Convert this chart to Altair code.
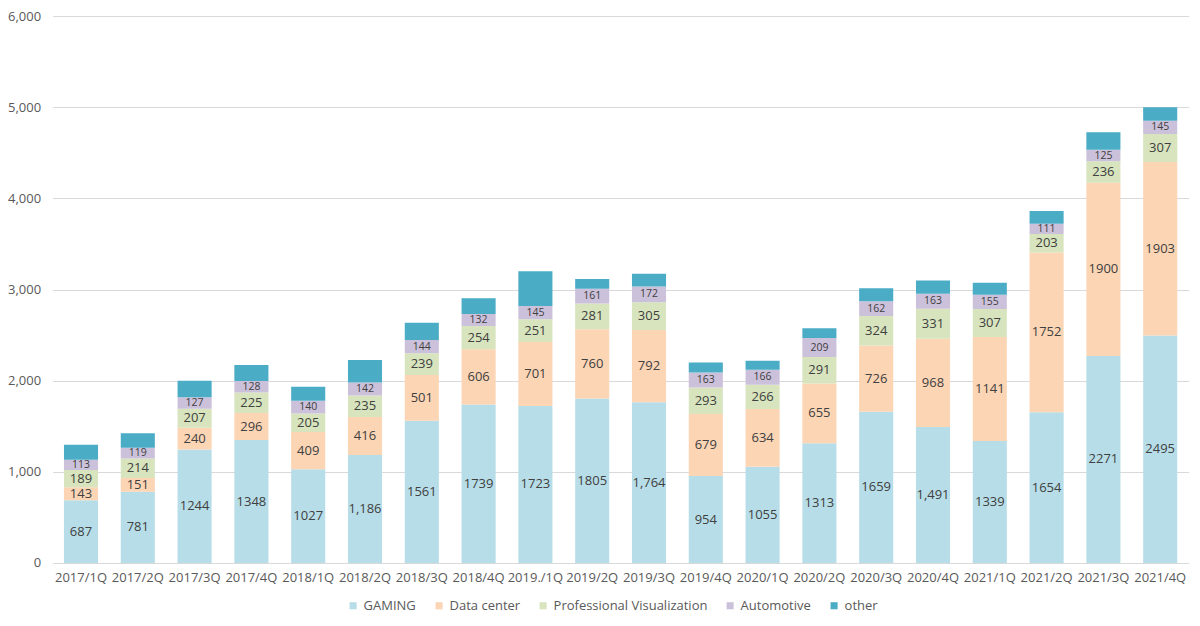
import altair as alt
import pandas as pd

quarters = ["2017/1Q", "2017/2Q", "2017/3Q", "2017/4Q", "2018/1Q", "2018/2Q", "2018/3Q", "2018/4Q",
            "2019./1Q", "2019/2Q", "2019/3Q", "2019/4Q", "2020/1Q", "2020/2Q", "2020/3Q", "2020/4Q",
            "2021/1Q", "2021/2Q", "2021/3Q", "2021/4Q"]
series = ["GAMING", "Data center", "Professional Visualization", "Automotive", "other"]

gaming = [687, 781, 1244, 1348, 1027, 1186, 1561, 1739, 1723, 1805, 1764, 954, 1055, 1313, 1659, 1491, 1339, 1654, 2271, 2495]
gaming_labels = ["687", "781", "1244", "1348", "1027", "1,186", "1561", "1739", "1723", "1805", "1,764", "954",
                 "1055", "1313", "1659", "1,491", "1339", "1654", "2271", "2495"]
datacenter = [143, 151, 240, 296, 409, 416, 501, 606, 701, 760, 792, 679, 634, 655, 726, 968, 1141, 1752, 1900, 1903]
provis = [189, 214, 207, 225, 205, 235, 239, 254, 251, 281, 305, 293, 266, 291, 324, 331, 307, 203, 236, 307]
automotive = [113, 119, 127, 128, 140, 142, 144, 132, 145, 161, 172, 163, 166, 209, 162, 163, 155, 111, 125, 145]
other = [166, 159, 182, 175, 153, 247, 189, 173, 379, 108, 140, 111, 98, 108, 142, 147, 133, 142, 193, 148]

colors = ["#B7DEE8", "#FCD5B5", "#D7E4BD", "#CCC1DA", "#4BACC6"]

rows = []
for i, q in enumerate(quarters):
    vals = [gaming[i], datacenter[i], provis[i], automotive[i], other[i]]
    labels = [gaming_labels[i], str(datacenter[i]), str(provis[i]), str(automotive[i]), ""]
    base = 0
    for j, s in enumerate(series):
        rows.append({"q": q, "series": s, "order": j, "y0": base, "y1": base + vals[j],
                     "mid": base + vals[j] / 2, "label": labels[j], "small": j == 3})
        base += vals[j]
df = pd.DataFrame(rows)

FONT = "Open Sans"

x_enc = alt.X("q:N", sort=quarters, title=None,
              scale=alt.Scale(paddingInner=0.4, paddingOuter=0.2),
              axis=alt.Axis(labelAngle=0, ticks=False, domain=False, labelPadding=9,
                            labelFontSize=13, labelColor="#595959", labelFont=FONT))
y_scale = alt.Scale(domain=[0, 6000], nice=False)

bars = alt.Chart(df).mark_bar().encode(
    x=x_enc,
    y=alt.Y("y0:Q", scale=y_scale, title=None,
            axis=alt.Axis(values=[0, 1000, 2000, 3000, 4000, 5000, 6000], format=",.0f",
                          ticks=False, domain=False, labelPadding=12, labelFontSize=13,
                          labelColor="#595959", labelFont=FONT, gridColor="#D9D9D9")),
    y2="y1:Q",
    color=alt.Color("series:N", scale=alt.Scale(domain=series, range=colors), title=None,
                    legend=alt.Legend(orient="none", direction="horizontal", legendX=294, legendY=583,
                                      symbolType="square", symbolSize=50, symbolStrokeWidth=0,
                                      labelFontSize=13, labelColor="#595959", labelFont=FONT,
                                      columnPadding=16, labelOffset=4)),
    order=alt.Order("order:Q"),
)

text_big = alt.Chart(df).transform_filter("datum.small == false && datum.label != ''").mark_text(
    fontSize=13, color="#404040", font=FONT, baseline="middle"
).encode(x=alt.X("q:N", sort=quarters), y=alt.Y("mid:Q", scale=y_scale), text="label:N")

text_small = alt.Chart(df).transform_filter("datum.small == true").mark_text(
    fontSize=10.5, color="#404040", font=FONT, baseline="middle"
).encode(x=alt.X("q:N", sort=quarters), y=alt.Y("mid:Q", scale=y_scale), text="label:N")

chart = alt.layer(bars, text_big, text_small).properties(
    width=1136, height=547,
    autosize=alt.AutoSizeParams(type="none"),
    padding={"left": 44.6, "top": 8, "right": 3, "bottom": 50},
).configure_view(stroke=None)

chart.save("out.html", embed_options={"renderer": "svg", "actions": False})
